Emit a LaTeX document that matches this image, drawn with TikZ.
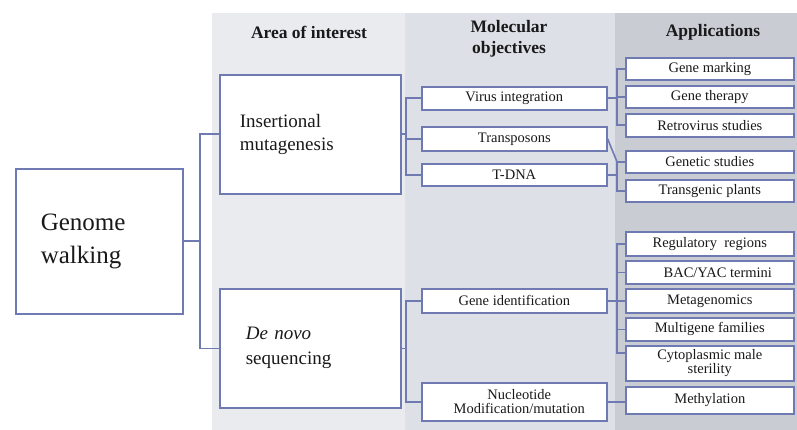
\documentclass[tikz,border=0pt]{standalone}
\usepackage{fontspec}
\setmainfont{Liberation Serif}
\definecolor{lineblue}{RGB}{112,122,178}
\definecolor{areabg}{RGB}{233,235,239}
\definecolor{molbg}{RGB}{221,224,230}
\definecolor{appbg}{RGB}{201,204,211}
\definecolor{txt}{RGB}{25,25,25}
\tikzset{
  box/.style={draw=lineblue, line width=1.6pt, fill=white, anchor=north west, inner sep=0pt, text=txt},
  smallbox/.style={box, font=\fontsize{14.5}{15}\selectfont, align=center},
  bigbox/.style={box, align=left},
  conn/.style={draw=lineblue, line width=1.6pt},
  hdr/.style={font=\bfseries\fontsize{17.5}{21}\selectfont, text=txt, align=center},
}
\begin{document}
\begin{tikzpicture}[x=1pt,y=-1pt]
\useasboundingbox (0,0) rectangle (797,430);
\fill[white] (0,0) rectangle (797,430);
% panels
\fill[areabg] (212,13) rectangle (405,430);
\fill[molbg] (405,13) rectangle (615,430);
\fill[appbg] (615,13) rectangle (797,430);
% headers
\node[hdr] (h1) at (309,32) {Area of interest};
\node[hdr] (h2) at (509,39) {Molecular\\objectives};
\node[hdr] (h3) at (713,32) {Applications};
% big boxes
\node[bigbox, minimum width=167pt, minimum height=145pt, inner xsep=25pt, text width=117pt,
  font=\fontsize{25}{33}\selectfont] (gw) at (15,168) {Genome\\walking};
\node[bigbox, minimum width=181pt, minimum height=119pt, inner xsep=20pt, text width=141pt,
  font=\fontsize{19}{23}\selectfont] (ins) at (219,74) {Insertional\\mutagenesis\vphantom{g}\\[8pt]};
\node[bigbox, minimum width=181pt, minimum height=119pt, inner xsep=26pt, text width=129pt,
  font=\fontsize{19}{25}\selectfont] (dn) at (219,288) {\textit{De novo}\\sequencing\\[6pt]};
% molecular objectives
\node[smallbox, minimum width=185pt, minimum height=23pt] (vi) at (421,86) {Virus integration};
\node[smallbox, minimum width=185pt, minimum height=24pt] (tr) at (421,126) {Transposons};
\node[smallbox, minimum width=185pt, minimum height=22pt] (td) at (421,163) {T-DNA};
\node[smallbox, minimum width=185pt, minimum height=24pt] (gi) at (421,288) {Gene identification};
\node[smallbox, minimum width=185pt, minimum height=38pt, font=\fontsize{14.5}{14}\selectfont] (nm) at (421,382) {\hspace*{10pt}Nucleotide\\\hspace*{10pt}Modification/mutation};
% applications
\node[smallbox, minimum width=168pt, minimum height=22pt] (gm) at (625,57) {Gene marking};
\node[smallbox, minimum width=168pt, minimum height=22pt] (gt) at (625,85) {Gene therapy};
\node[smallbox, minimum width=168pt, minimum height=23pt] (rs) at (625,113) {Retrovirus studies};
\node[smallbox, minimum width=168pt, minimum height=22pt] (gs) at (625,150) {Genetic studies};
\node[smallbox, minimum width=168pt, minimum height=22pt] (tp) at (625,179) {Transgenic plants};
\node[smallbox, minimum width=168pt, minimum height=24pt] (rr) at (625,231) {Regulatory\ \ regions};
\node[smallbox, minimum width=168pt, minimum height=23pt] (by) at (625,260) {\hspace*{16pt}BAC/YAC termini};
\node[smallbox, minimum width=168pt, minimum height=24pt] (mg) at (625,288) {Metagenomics};
\node[smallbox, minimum width=168pt, minimum height=23pt] (mf) at (625,317) {Multigene families};
\node[smallbox, minimum width=168pt, minimum height=35pt, font=\fontsize{14.5}{12}\selectfont] (cm) at (625,345) {Cytoplasmic male\\sterility};
\node[smallbox, minimum width=168pt, minimum height=27pt] (me) at (625,386) {Methylation};
% bracket coordinates
\coordinate (b1) at (200,0);
\coordinate (b2) at (406,0);
\coordinate (b3) at (617,0);
\coordinate (cmj) at (617,353);
% connectors level 1
\draw[conn] (gw.east) -- (gw.east -| b1);
\draw[conn] (ins.west) -- (ins.west -| b1) -- (dn.west -| b1) -- (dn.west);
% level 2
\draw[conn] (ins.east) -- (ins.east -| b2);
\draw[conn] (vi.west) -- (vi.west -| b2) -- (td.west -| b2) -- (td.west);
\draw[conn] (tr.west) -- (tr.west -| b2);
\draw[conn] (dn.east) -- (dn.east -| b2);
\draw[conn] (gi.west) -- (gi.west -| b2) -- (nm.west -| b2) -- (nm.west);
% level 3
\draw[conn] (vi.east) -- (vi.east -| b3);
\draw[conn] (gm.west) -- (gm.west -| b3) -- (rs.west -| b3) -- (rs.west);
\draw[conn] (gt.west) -- (gt.west -| b3);
\draw[conn] (tr.east) -- (gs.west -| b3);
\draw[conn] (gs.west) -- (gs.west -| b3) -- (tp.west -| b3) -- (tp.west);
\draw[conn] (td.east) -- (td.east -| b3);
\draw[conn] (gi.east) -- (gi.east -| b3);
\draw[conn] (rr.west) -- (rr.west -| b3) -- (cmj) -- (cmj -| cm.west);
\draw[conn] (by.west) -- (by.west -| b3);
\draw[conn] (mg.west) -- (mg.west -| b3);
\draw[conn] (mf.west) -- (mf.west -| b3);
\draw[conn] (nm.east) -- (nm.east -| me.west);
\end{tikzpicture}
\end{document}
